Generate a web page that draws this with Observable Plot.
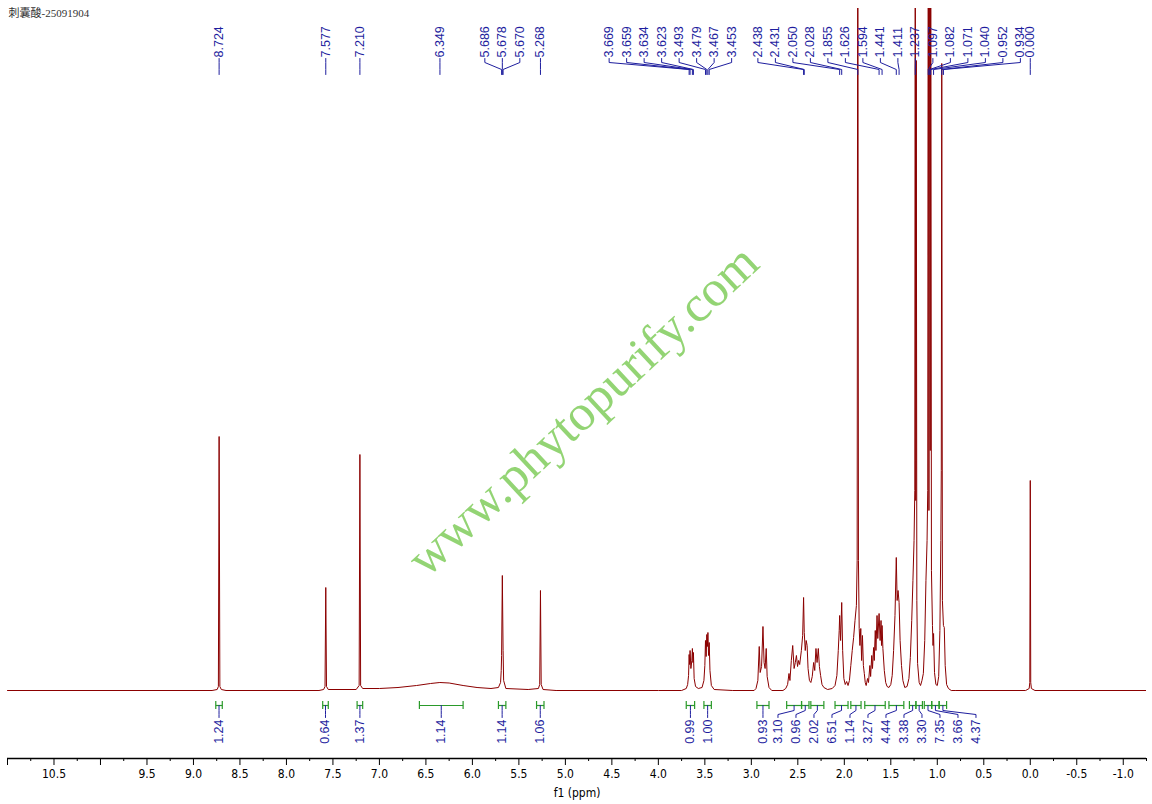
<!DOCTYPE html>
<html>
<head>
<meta charset="utf-8">
<script src="https://cdn.jsdelivr.net/npm/d3@7"></script>
<script src="https://cdn.jsdelivr.net/npm/@observablehq/plot@0.6"></script>
<style>
  html, body { margin: 0; padding: 0; background: #fff; }
  svg { display: block; }
</style>
</head>
<body>
<div id="chart"></div>
<script>
// spectrum vertices: [ppm, intensity]
const lowField = [
  [11.0, 0], [8.80, 0], [8.745, 1], [8.732, 4], [8.724, 254], [8.716, 4], [8.70, 1], [8.65, 0],
  [7.65, 0], [7.60, 1], [7.585, 4], [7.577, 103], [7.569, 4], [7.55, 1],
  [7.25, 1], [7.218, 5], [7.210, 236], [7.202, 5], [7.18, 2],
  [7.0, 2], [6.8, 3], [6.6, 5], [6.45, 7], [6.35, 8], [6.25, 7.5], [6.1, 5], [5.95, 3], [5.8, 2],
  [5.72, 3], [5.697, 8], [5.690, 20], [5.686, 35], [5.678, 115], [5.670, 40], [5.664, 10], [5.64, 2],
  [5.40, 1], [5.29, 2], [5.276, 6], [5.268, 100], [5.260, 6], [5.24, 1], [5.10, 0]
];

const midField = [
  [4.0, 0], [3.75, 0], [3.70, 2], [3.685, 6], [3.675, 15], [3.669, 36], [3.664, 26], [3.659, 40],
  [3.650, 22], [3.640, 30], [3.634, 42], [3.628, 28], [3.623, 38], [3.615, 12], [3.60, 4], [3.57, 2],
  [3.53, 3], [3.51, 10], [3.50, 25], [3.493, 50], [3.486, 34], [3.479, 56], [3.473, 44], [3.467, 58],
  [3.460, 35], [3.453, 48], [3.445, 20], [3.43, 5], [3.40, 1], [3.20, 0],
  [2.97, 0], [2.95, 2], [2.93, 10], [2.915, 44], [2.905, 18], [2.89, 24], [2.875, 64], [2.863, 28],
  [2.852, 22], [2.840, 42], [2.83, 14], [2.81, 3], [2.78, 0], [2.66, 0]
];

const highField = [
  [2.63, 2], [2.61, 6], [2.595, 17], [2.585, 10], [2.57, 30], [2.555, 45], [2.54, 22], [2.527, 28],
  [2.515, 35], [2.503, 24], [2.492, 30], [2.48, 26], [2.462, 40], [2.448, 55], [2.438, 93], [2.431, 58],
  [2.42, 40], [2.41, 50], [2.40, 45], [2.39, 22], [2.375, 10], [2.36, 8], [2.345, 14], [2.33, 28],
  [2.318, 20], [2.305, 42], [2.293, 28], [2.28, 42], [2.268, 24], [2.255, 15], [2.24, 6], [2.22, 3],
  [2.18, 1], [2.13, 2], [2.10, 5], [2.08, 15], [2.065, 40], [2.055, 60], [2.050, 75], [2.040, 50],
  [2.028, 88], [2.018, 40], [2.005, 12], [1.99, 6], [1.975, 9], [1.96, 5], [1.945, 10], [1.93, 25],
  [1.915, 40], [1.90, 53], [1.885, 70], [1.870, 85], [1.862, 130], [1.855, 900], [1.848, 130],
  [1.840, 62], [1.832, 45], [1.823, 62], [1.814, 30], [1.805, 55], [1.795, 25], [1.785, 17],
  [1.775, 8], [1.765, 5], [1.75, 12], [1.74, 8], [1.725, 25], [1.717, 14], [1.705, 35], [1.697, 22],
  [1.685, 43], [1.678, 30], [1.667, 60], [1.660, 40], [1.648, 75], [1.640, 52], [1.626, 77], [1.615, 50],
  [1.605, 70], [1.600, 45], [1.594, 65], [1.585, 42], [1.57, 20], [1.555, 8], [1.54, 4], [1.52, 3],
  [1.50, 6], [1.485, 15], [1.47, 40], [1.455, 75], [1.441, 133], [1.432, 90], [1.422, 100],
  [1.411, 88], [1.40, 50], [1.385, 25], [1.37, 10], [1.35, 3], [1.325, 4], [1.305, 12], [1.29, 33],
  [1.275, 70], [1.262, 110], [1.250, 150], [1.242, 200], [1.237, 900], [1.232, 190], [1.229, 230],
  [1.226, 630], [1.220, 90], [1.212, 27], [1.195, 8], [1.18, 5], [1.165, 10], [1.15, 17], [1.135, 50],
  [1.122, 110], [1.110, 150], [1.103, 200], [1.097, 900], [1.090, 180], [1.082, 900], [1.076, 240],
  [1.071, 900], [1.063, 120], [1.052, 65], [1.046, 45], [1.040, 57], [1.030, 18], [1.015, 6],
  [1.000, 5], [0.985, 14], [0.972, 60], [0.962, 150], [0.957, 220], [0.952, 627], [0.945, 90],
  [0.934, 65], [0.925, 63], [0.915, 25], [0.90, 6], [0.88, 2], [0.85, 0]
];

const tmsField = [
  [0.80, 0], [0.05, 0], [0.012, 2], [0.005, 8], [0.000, 210], [-0.005, 8], [-0.012, 2], [-0.05, 0], [-1.25, 0]
];

// peak picking labels, grouped as in the original
const peakGroups = [
  [8.724], [7.577], [7.210], [6.349], [5.686, 5.678, 5.670], [5.268],
  [3.669, 3.659, 3.634, 3.623, 3.493, 3.479, 3.467, 3.453],
  [2.438, 2.431, 2.050, 2.028, 1.855, 1.626, 1.594, 1.441, 1.411, 1.237, 1.097, 1.082, 1.071, 1.040, 0.952, 0.934],
  [0.000]
];

// integrations
const integralFrom = [8.76, 7.61, 7.24, 6.57, 5.72, 5.31, 3.70, 3.51, 2.94,
  2.62, 2.46, 2.36, 2.10, 1.93, 1.78, 1.52, 1.30, 1.23, 1.14, 1.06, 0.98];
const integralTo = [8.69, 7.55, 7.18, 6.10, 5.64, 5.23, 3.61, 3.43, 2.81,
  2.46, 2.38, 2.22, 1.96, 1.82, 1.56, 1.36, 1.23, 1.16, 1.06, 0.98, 0.90];
const integralValue = [1.24, 0.64, 1.37, 1.14, 1.14, 1.06, 0.99, 1.00, 0.93,
  3.10, 0.96, 2.02, 6.51, 1.14, 3.27, 4.44, 3.38, 3.30, 7.35, 3.66, 4.37];

// axis
const tickLabels = [10.5, 9.5, 9.0, 8.5, 8.0, 7.5, 7.0, 6.5, 6.0, 5.5, 5.0, 4.5, 4.0, 3.5,
  3.0, 2.5, 2.0, 1.5, 1.0, 0.5, 0.0, -0.5, -1.0];
const majorTicks = d3.range(11, -1.01, -0.5);
const minorTicks = d3.range(10.75, -1.3, -0.5);

const title = "刺囊酸-25091904";
const watermark = "www.phytopurify.com";

const W = 1152, H = 804, mL = 7, mR = 6, mT = 8, mB = 46;
const xDomain = [11, -1.25];
const xs = d3.scaleLinear().domain(xDomain).range([mL, W - mR]);

const red = "#8b0000", blue = "#1e1e9e", green = "#2a9a2a";

const spectrum = [...lowField, ...midField, ...highField, ...tmsField].map(([ppm, v]) => ({ppm, v}));

// spread peak labels of a group evenly around the group centre, push left groups away
function layoutPeaks(groups, gap) {
  const laid = groups.map((g) => {
    const c = d3.mean(g, xs);
    return {g, n: g.length, left: c - ((g.length - 1) * gap) / 2};
  });
  for (let i = laid.length - 2; i >= 0; --i) {
    const a = laid[i], b = laid[i + 1];
    if (b.n > 1 && a.left + (a.n - 1) * gap > b.left - gap) {
      a.left = b.left - 1.5 * gap - (a.n - 1) * gap;
    }
  }
  return laid.flatMap((d) => d.g.map((p, j) => ({peak: p, lx: xs.invert(d.left + j * gap), label: p.toFixed(3)})));
}

// merge overlapping labels into blocks centred on their targets
function layoutBlocks(pos, gap, minDist) {
  const blocks = pos.map((x, i) => ({idx: [i], c: x}));
  let merged = true;
  while (merged) {
    merged = false;
    for (let i = 0; i < blocks.length - 1; i++) {
      const a = blocks[i], b = blocks[i + 1];
      const aR = a.c + ((a.idx.length - 1) * gap) / 2;
      const bL = b.c - ((b.idx.length - 1) * gap) / 2;
      if (bL - aR < minDist) {
        const idx = a.idx.concat(b.idx);
        blocks.splice(i, 2, {idx, c: d3.mean(idx, (k) => pos[k])});
        merged = true;
        break;
      }
    }
  }
  const out = [];
  blocks.forEach((b) => b.idx.forEach((k, j) => (out[k] = b.c + (j - (b.idx.length - 1) / 2) * gap)));
  return out;
}

const peakLabels = layoutPeaks(peakGroups, 17.5);
const peakLinks = peakLabels.flatMap((d, i) => [
  {id: i, x: d.lx, y: 632}, {id: i, x: d.lx, y: 628},
  {id: i, x: d.peak, y: 621}, {id: i, x: d.peak, y: 616}
]);

const integrals = integralValue.map((v, i) => ({
  from: integralFrom[i], to: integralTo[i], mid: (integralFrom[i] + integralTo[i]) / 2, label: v.toFixed(2)
}));
const integralPx = layoutBlocks(integrals.map((d) => xs(d.mid)), 18, 13);
integrals.forEach((d, i) => (d.lx = xs.invert(integralPx[i])));
const integralLinks = integrals.flatMap((d, i) => [
  {id: i, x: d.mid, y: -15}, {id: i, x: d.mid, y: -20},
  {id: i, x: d.lx, y: -24}, {id: i, x: d.lx, y: -27}
]);
const integralEnds = integrals.flatMap((d) => [d.from, d.to]);

const chart = Plot.plot({
  width: W,
  height: H,
  marginLeft: mL,
  marginRight: mR,
  marginTop: mT,
  marginBottom: mB,
  style: {fontFamily: "'Liberation Sans', Arial, sans-serif", fontSize: "12px", background: "white", color: "black"},
  x: {domain: xDomain},
  y: {domain: [-68, 682], axis: null},
  marks: [
    Plot.text([watermark], {
      frameAnchor: "middle",
      text: (d) => d,
      rotate: -43,
      dx: 6,
      dy: 27,
      fontSize: 51,
      fontFamily: "'Liberation Serif', 'Times New Roman', serif",
      fill: "#80cc5c",
      fillOpacity: 0.85
    }),
    Plot.line(spectrum, {x: "ppm", y: "v", stroke: red, strokeWidth: 1, clip: true}),

    Plot.line(peakLinks, {x: "x", y: "y", z: "id", stroke: blue, strokeWidth: 1}),
    Plot.text(peakLabels, {
      x: "lx", y: () => 633, text: "label", rotate: -90,
      textAnchor: "start", lineAnchor: "middle", fill: blue, fontSize: 12.5
    }),

    Plot.link(integrals, {x1: "from", x2: "to", y1: () => -15, y2: () => -15, stroke: green, strokeWidth: 1.2}),
    Plot.ruleX(integralEnds, {x: (d) => d, y1: () => -11, y2: () => -19, stroke: green, strokeWidth: 1.2}),
    Plot.line(integralLinks, {x: "x", y: "y", z: "id", stroke: blue, strokeWidth: 1}),
    Plot.text(integrals, {
      x: "lx", y: () => -29, text: "label", rotate: -90,
      textAnchor: "end", lineAnchor: "middle", fill: blue, fontSize: 12.5
    }),

    Plot.ruleY([-68], {stroke: "black", strokeWidth: 1.5}),
    Plot.axisX({
      ticks: majorTicks, tickSize: 7, tickPadding: 4, label: null,
      tickFormat: (d) => (tickLabels.some((t) => Math.abs(t - d) < 1e-9) ? d.toFixed(1) : ""),
      fontFamily: "'Liberation Sans Narrow', 'DejaVu Sans Condensed', 'Liberation Sans', sans-serif",
      fontSize: 12
    }),
    Plot.axisX({ticks: minorTicks, tickSize: 3, label: null, tickFormat: () => ""}),
    Plot.text(["f1 (ppm)"], {
      frameAnchor: "bottom", text: (d) => d, dy: 35, lineAnchor: "middle",
      fontFamily: "'Liberation Sans Narrow', 'DejaVu Sans Condensed', 'Liberation Sans', sans-serif",
      fontSize: 12
    }),
    Plot.text([title], {
      frameAnchor: "top-left", text: (d) => d, dx: 1, dy: 1,
      textAnchor: "start", lineAnchor: "top",
      fontFamily: "'Liberation Serif', 'Noto Sans CJK SC', serif",
      fontSize: 11, fill: "#333"
    })
  ]
});

document.getElementById("chart").appendChild(chart);
</script>
</body>
</html>
